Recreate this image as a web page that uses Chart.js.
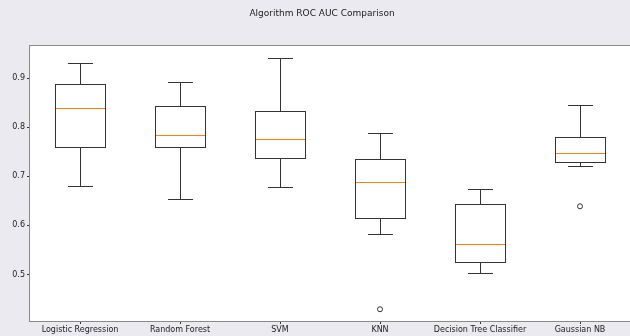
<!DOCTYPE html>
<html>
<head>
<meta charset="utf-8">
<script src="https://cdn.jsdelivr.net/npm/chart.js@4/dist/chart.umd.min.js"></script>
<style>
  html, body { margin: 0; padding: 0; background: #eaeaf0; }
  #wrap { width: 630px; height: 336px; }
</style>
</head>
<body>
<div id="wrap"><canvas id="c" width="630" height="336"></canvas></div>
<script>
// données
const models = ['Logistic Regression', 'Random Forest', 'SVM', 'KNN', 'Decision Tree Classifier', 'Gaussian NB'];
const whiskerLow = [0.680, 0.654, 0.678, 0.582, 0.502, 0.721];
const q1 = [0.760, 0.760, 0.737, 0.616, 0.526, 0.730];
const median = [0.839, 0.785, 0.776, 0.688, 0.563, 0.747];
const q3 = [0.888, 0.844, 0.834, 0.735, 0.644, 0.780];
const whiskerHigh = [0.931, 0.892, 0.941, 0.788, 0.674, 0.845];
const outliers = [null, null, null, 0.429, null, 0.639];
const yTicks = [0.5, 0.6, 0.7, 0.8, 0.9];

const EDGE = '#333333';

function px(v) { return Math.round(v) + 0.5; }

// contour des boîtes, moustaches, bornes et médianes, dessinés via les échelles
const boxExtras = {
    id: 'boxExtras',
    afterDatasetsDraw(chart) {
        const ctx = chart.ctx;
        const x = chart.scales.x, y = chart.scales.y;
        const step = x.width / models.length;
        const capHalf = step * 0.125;
        const boxHalf = step * 0.25;
        ctx.save();
        ctx.lineWidth = 1;
        models.forEach(function (_, i) {
            const cx = px(x.getPixelForValue(i));
            const yh = px(y.getPixelForValue(whiskerHigh[i]));
            const yl = px(y.getPixelForValue(whiskerLow[i]));
            const yq3 = px(y.getPixelForValue(q3[i]));
            const yq1 = px(y.getPixelForValue(q1[i]));
            ctx.strokeStyle = EDGE;
            ctx.beginPath();
            ctx.moveTo(cx, yq3); ctx.lineTo(cx, yh);
            ctx.moveTo(cx, yq1); ctx.lineTo(cx, yl);
            ctx.moveTo(cx - capHalf, yh); ctx.lineTo(cx + capHalf, yh);
            ctx.moveTo(cx - capHalf, yl); ctx.lineTo(cx + capHalf, yl);
            ctx.stroke();
            ctx.strokeRect(cx - boxHalf, yq3, boxHalf * 2, yq1 - yq3);
            const ym = px(y.getPixelForValue(median[i]));
            ctx.strokeStyle = '#ff7f0e';
            ctx.beginPath();
            ctx.moveTo(cx - boxHalf + 0.5, ym); ctx.lineTo(cx + boxHalf - 0.5, ym);
            ctx.stroke();
        });
        // cadre du graphique
        const a = chart.chartArea;
        ctx.strokeStyle = '#8a8a8a';
        ctx.strokeRect(a.left - 0.5, a.top + 0.5, a.right - a.left + 2, a.bottom - a.top);
        ctx.restore();
    }
};

const figTitle = {
    id: 'figTitle',
    beforeDraw(chart) {
        const ctx = chart.ctx;
        ctx.save();
        ctx.fillStyle = '#eaeaf0';
        ctx.fillRect(0, 0, chart.width, chart.height);
        const a = chart.chartArea;
        ctx.fillStyle = '#ffffff';
        ctx.fillRect(a.left, a.top, a.right - a.left, a.bottom - a.top);
        ctx.fillStyle = '#222';
        ctx.font = '9px "DejaVu Sans"';
        ctx.textAlign = 'center';
        ctx.textBaseline = 'middle';
        ctx.fillText('Algorithm ROC AUC Comparison', 322, 14);
        ctx.restore();
    }
};

new Chart(document.getElementById('c'), {
    type: 'bar',
    data: {
        labels: models,
        datasets: [{
            data: q1.map(function (v, i) { return [v, q3[i]]; }),
            backgroundColor: '#ffffff',
            borderWidth: 0,
            categoryPercentage: 1,
            barPercentage: 0.5
        }, {
            type: 'line',
            data: outliers,
            showLine: false,
            pointRadius: 2.5,
            pointBorderWidth: 1,
            pointBackgroundColor: '#ffffff',
            pointBorderColor: EDGE
        }]
    },
    options: {
        responsive: false,
        animation: false,
        layout: { autoPadding: false, padding: { top: 45, right: 0, left: 0, bottom: 0 } },
        plugins: { legend: { display: false }, tooltip: { enabled: false }, title: { display: false } },
        scales: {
            x: {
                afterFit(s) { s.height = 15; s.paddingLeft = 0; s.paddingRight = 0; },
                grid: { offset: false, drawOnChartArea: false, drawTicks: true, tickLength: 3, color: '#333' },
                border: { display: false },
                ticks: { color: '#222', font: { family: 'DejaVu Sans', size: 8 }, padding: 1, maxRotation: 0, autoSkip: false }
            },
            y: {
                min: 0.405,
                max: 0.968,
                afterFit(s) { s.width = 30; s.paddingTop = 0; s.paddingBottom = 0; },
                afterBuildTicks(s) { s.ticks = yTicks.map(function (v) { return { value: v }; }); },
                grid: { drawOnChartArea: false, drawTicks: true, tickLength: 3, color: '#333' },
                border: { display: false },
                ticks: {
                    color: '#222',
                    font: { family: 'DejaVu Sans', size: 8 },
                    padding: 2,
                    callback: function (v) { return v.toFixed(1); }
                }
            }
        }
    },
    plugins: [figTitle, boxExtras]
});
</script>
</body>
</html>
